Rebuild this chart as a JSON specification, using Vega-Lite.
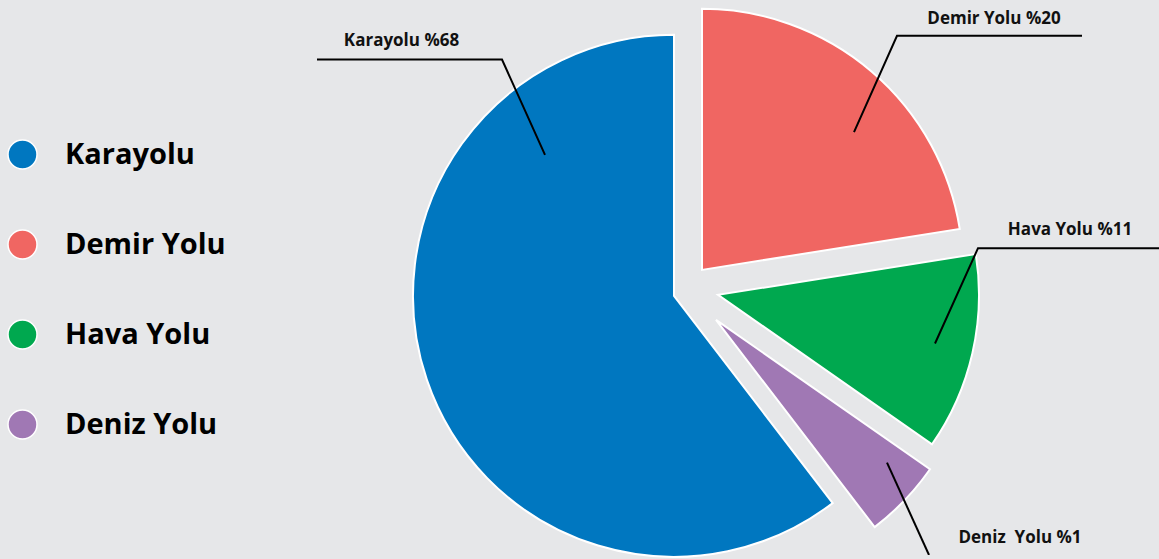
{
  "$schema": "https://vega.github.io/schema/vega-lite/v6.json",
  "width": 1159,
  "height": 559,
  "autosize": {"type": "fit", "contains": "padding"},
  "padding": 0,
  "background": "#e6e7e9",
  "config": {"view": {"stroke": null}},
  "datasets": {
    "shares": [
      {"mode": "Demir Yolu", "value": 22.5},
      {"mode": "Hava Yolu", "value": 12.2},
      {"mode": "Deniz Yolu", "value": 4.9},
      {"mode": "Karayolu", "value": 60.4}
    ],
    "leaders": [
      {"leader": "Karayolu", "step": 1, "x": -357, "y": 238},
      {"leader": "Karayolu", "step": 2, "x": -172, "y": 238},
      {"leader": "Karayolu", "step": 3, "x": -129, "y": 142},
      {"leader": "Demir Yolu", "step": 1, "x": 408, "y": 262},
      {"leader": "Demir Yolu", "step": 2, "x": 223, "y": 262},
      {"leader": "Demir Yolu", "step": 3, "x": 180, "y": 165},
      {"leader": "Hava Yolu", "step": 1, "x": 485, "y": 48},
      {"leader": "Hava Yolu", "step": 2, "x": 304, "y": 48},
      {"leader": "Hava Yolu", "step": 3, "x": 261, "y": -48},
      {"leader": "Deniz Yolu", "step": 1, "x": 213, "y": -168},
      {"leader": "Deniz Yolu", "step": 2, "x": 255, "y": -261}
    ],
    "labels": [
      {"text": "Karayolu %68", "x": -272.5, "y": 252},
      {"text": "Demir Yolu %20", "x": 320, "y": 274},
      {"text": "Hava Yolu %11", "x": 396, "y": 61},
      {"text": "Deniz\u00a0 Yolu %1", "x": 346, "y": -249}
    ]
  },
  "layer": [
    {
      "data": {"name": "shares"},
      "transform": [
        {"stack": "value", "groupby": [], "as": ["v0", "v1"]},
        {"filter": "datum.mode === 'Karayolu'"}
      ],
      "mark": {"type": "arc", "outerRadius": 261, "stroke": "white", "strokeWidth": 2},
      "encoding": {
        "x": {"datum": 0, "type": "quantitative", "scale": {"domain": [-674, 485], "nice": false, "zero": false}, "axis": null},
        "y": {"datum": 0, "type": "quantitative", "scale": {"domain": [-261, 298], "nice": false, "zero": false}, "axis": null},
        "theta": {"field": "v0", "type": "quantitative", "scale": {"domain": [0, 100]}},
        "theta2": {"field": "v1"},
        "color": {
          "field": "mode", "type": "nominal",
          "scale": {"domain": ["Karayolu", "Demir Yolu", "Hava Yolu", "Deniz Yolu"], "range": ["#0077c0", "#f06662", "#00a84f", "#a078b4"]},
          "legend": {"orient": "none", "legendX": 7, "legendY": 139, "title": null, "symbolType": "circle", "symbolSize": 841, "labelFontSize": 29, "labelFont": "Open Sans", "labelFontWeight": "bold", "labelColor": "#000000", "rowPadding": 55, "labelOffset": 27, "symbolStrokeColor": "white", "symbolStrokeWidth": 1.5, "labelLimit": 400}
        }
      }
    },
    {
      "data": {"name": "shares"},
      "transform": [
        {"stack": "value", "groupby": [], "as": ["v0", "v1"]},
        {"filter": "datum.mode === 'Demir Yolu'"}
      ],
      "mark": {"type": "arc", "outerRadius": 261, "stroke": "white", "strokeWidth": 2, "xOffset": 28, "yOffset": -26},
      "encoding": {
        "x": {"datum": 0, "type": "quantitative"},
        "y": {"datum": 0, "type": "quantitative"},
        "theta": {"field": "v0", "type": "quantitative"},
        "theta2": {"field": "v1"},
        "color": {"field": "mode", "type": "nominal"}
      }
    },
    {
      "data": {"name": "shares"},
      "transform": [
        {"stack": "value", "groupby": [], "as": ["v0", "v1"]},
        {"filter": "datum.mode === 'Hava Yolu'"}
      ],
      "mark": {"type": "arc", "outerRadius": 261, "stroke": "white", "strokeWidth": 2, "xOffset": 44, "yOffset": -1},
      "encoding": {
        "x": {"datum": 0, "type": "quantitative"},
        "y": {"datum": 0, "type": "quantitative"},
        "theta": {"field": "v0", "type": "quantitative"},
        "theta2": {"field": "v1"},
        "color": {"field": "mode", "type": "nominal"}
      }
    },
    {
      "data": {"name": "shares"},
      "transform": [
        {"stack": "value", "groupby": [], "as": ["v0", "v1"]},
        {"filter": "datum.mode === 'Deniz Yolu'"}
      ],
      "mark": {"type": "arc", "outerRadius": 261, "stroke": "white", "strokeWidth": 2, "xOffset": 42, "yOffset": 24},
      "encoding": {
        "x": {"datum": 0, "type": "quantitative"},
        "y": {"datum": 0, "type": "quantitative"},
        "theta": {"field": "v0", "type": "quantitative"},
        "theta2": {"field": "v1"},
        "color": {"field": "mode", "type": "nominal"}
      }
    },
    {
      "data": {"name": "leaders"},
      "mark": {"type": "line", "color": "#000000", "strokeWidth": 2, "clip": true},
      "encoding": {
        "x": {"field": "x", "type": "quantitative"},
        "y": {"field": "y", "type": "quantitative"},
        "detail": {"field": "leader"},
        "order": {"field": "step", "type": "quantitative"}
      }
    },
    {
      "data": {"name": "labels"},
      "mark": {"type": "text", "font": "Open Sans", "fontWeight": "bold", "fontSize": 17, "align": "center", "baseline": "alphabetic", "color": "#111111"},
      "encoding": {
        "x": {"field": "x", "type": "quantitative"},
        "y": {"field": "y", "type": "quantitative"},
        "text": {"field": "text"}
      }
    }
  ]
}
